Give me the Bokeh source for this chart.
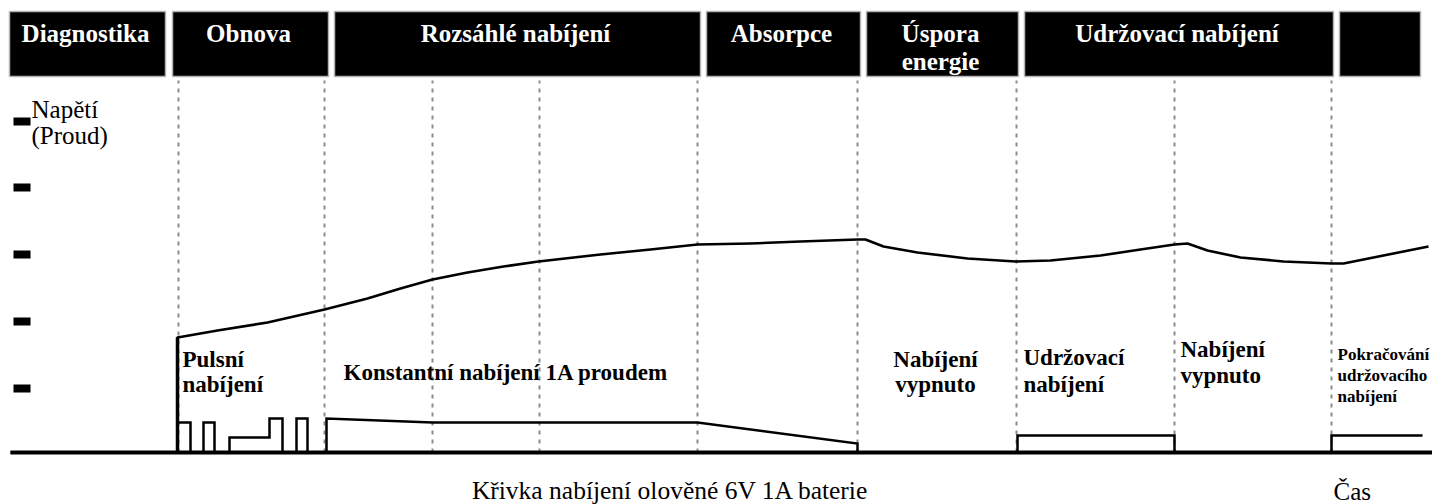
from bokeh.plotting import figure
from bokeh.models import Range1d
from bokeh.core.properties import value
from bokeh.embed import file_html
from bokeh.resources import INLINE

# ---------------- data (time in arbitrary units, level = height above zero line) ----------------
phase_labels = ["Diagnostika", "Obnova", "Rozsáhlé nabíjení", "Absorpce",
                "Úspora\nenergie", "Udržovací nabíjení", ""]
phase_start = [9, 172, 334, 706, 866, 1024, 1339]
phase_end = [165, 328, 700, 860, 1018, 1333, 1420]

boundary_t = [178, 324, 432, 539, 697, 857, 1016, 1174, 1331]

level_ticks = [64, 131, 198, 265, 331]

# time axis extent (zero line)
time_axis_t = [10, 1440]

# voltage curve (Napětí)
volt_t = [10, 177, 177, 217, 267, 324, 367, 400, 432, 467, 503, 538, 600, 650, 697,
          750, 800, 857, 865, 883, 917, 967, 1015, 1050, 1100, 1140, 1174, 1187,
          1207, 1240, 1283, 1331, 1343, 1428]
volt_v = [0, 0, 115, 122, 130, 143, 154, 164, 173, 180, 186, 191, 198, 203, 208,
          209, 211, 213, 213, 206, 200, 194, 191, 192, 197, 203, 208, 209,
          202, 195, 191, 189, 189, 206]

# current curve (Proud)
cur_t = [177, 177, 190, 190, 203, 203, 214, 214, 229, 229, 269, 269, 282, 282,
         296, 296, 307, 307, 326, 326, 432, 697, 857, 857,
         1017, 1017, 1174, 1174, 1331, 1331, 1422]
cur_v = [0, 30, 30, 0, 0, 30, 30, 0, 0, 15, 15, 34, 34, 0,
         0, 34, 34, 0, 0, 34, 30, 30, 9, 0,
         0, 17, 17, 0, 0, 17, 17]

axis_label_lines = ["Napětí", "(Proud)"]
chart_title = "Křivka nabíjení olověné 6V 1A baterie"
time_label = "Čas"

# annotations: (lines, anchor time, first baseline level, align, size px, line step)
annotations = [
    (["Pulsní", "nabíjení"], 182, 85, "left", 23, 25),
    (["Konstantní nabíjení 1A proudem"], 343, 72, "left", 23, 25),
    (["Nabíjení", "vypnuto"], 935, 85, "center", 23, 25),
    (["Udržovací", "nabíjení"], 1023, 87, "left", 23, 27),
    (["Nabíjení", "vypnuto"], 1180, 95, "left", 23, 26),
    (["Pokračování", "udržovacího", "nabíjení"], 1337, 92, "left", 17, 21),
]

SERIF = value("Liberation Serif")


def lift(size):
    # baseline correction for Bokeh's text layout
    return 0.34 * size


# ---------------- figure ----------------
W, H = 1432, 504
p = figure(width=W, height=H, output_backend="svg", toolbar_location=None,
           x_range=Range1d(0, W), y_range=Range1d(452 - H, 452),
           x_axis_type=None, y_axis_type=None, min_border=0,
           background_fill_color="white", border_fill_color="white")
p.outline_line_color = None
p.grid.visible = False

# header boxes
header_top, header_bottom = 441, 376
p.quad(left=phase_start, right=phase_end, top=header_top, bottom=header_bottom,
       fill_color="black", line_color="#b5b5b5", line_width=1.5)

hx, hy, ht = [], [], []
for lab, s, e in zip(phase_labels, phase_start, phase_end):
    for i, line in enumerate(lab.split("\n")):
        if line:
            hx.append((s + e) / 2 - 2)
            hy.append(411 - i * 28 + lift(25))
            ht.append(line)
p.text(x=hx, y=hy, text=ht, text_color="white", text_font=SERIF,
       text_font_style="bold", text_font_size="25px", text_align="center",
       text_baseline="alphabetic")

# dashed phase boundaries
p.segment(x0=boundary_t, y0=[0] * len(boundary_t), x1=boundary_t,
          y1=[372] * len(boundary_t), line_color="#8c8c8c", line_width=2,
          line_dash="4 5")

# level marks
p.rect(x=[21.5] * len(level_ticks), y=level_ticks, width=17, height=8,
       width_units="screen", height_units="screen", fill_color="black",
       line_color=None)

# current and voltage curves
p.line(cur_t, cur_v, line_color="black", line_width=2.5, line_join="miter")
p.line(volt_t, volt_v, line_color="black", line_width=2.6, line_join="round")
p.line(volt_t[1:3], volt_v[1:3], line_color="black", line_width=3.5)

# zero line
p.line(time_axis_t, [0, 0], line_color="black", line_width=4)

# axis label
p.text(x=[31, 31], y=[335 + lift(25), 309 + lift(25)], text=axis_label_lines,
       text_color="black", text_font=SERIF, text_font_size="25px",
       text_align="left", text_baseline="alphabetic")

# annotations
for lines, t, v0, align, size, step in annotations:
    p.text(x=[t] * len(lines),
           y=[v0 - i * step + lift(size) for i in range(len(lines))],
           text=lines, text_color="black", text_font=SERIF, text_font_style="bold",
           text_font_size=f"{size}px", text_align=align, text_baseline="alphabetic")

# bottom texts
p.text(x=[670], y=[-47 + lift(25.5)], text=[chart_title], text_color="black",
       text_font=SERIF, text_font_size="25.5px", text_align="center",
       text_baseline="alphabetic")
p.text(x=[1333], y=[-47 + lift(25)], text=[time_label], text_color="black",
       text_font=SERIF, text_font_size="25px", text_align="left",
       text_baseline="alphabetic")

open("out.html", "w").write(file_html(p, INLINE))
